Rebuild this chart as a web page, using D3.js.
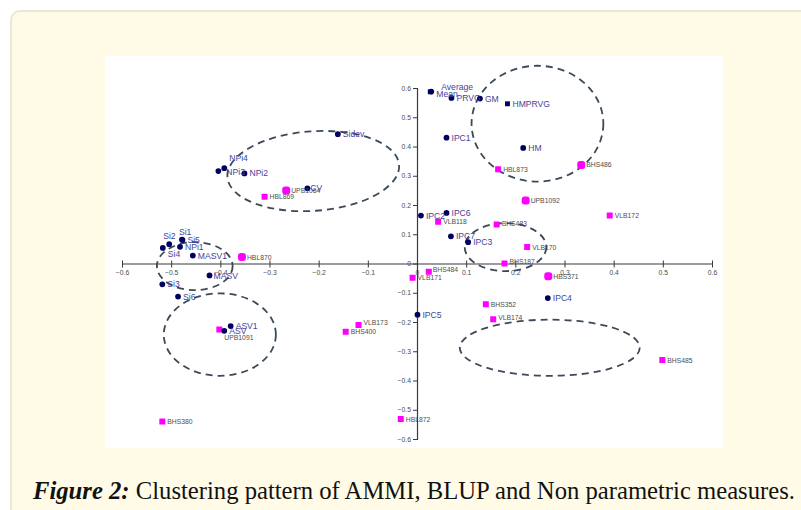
<!DOCTYPE html>
<html>
<head>
<meta charset="utf-8">
<script src="https://cdn.jsdelivr.net/npm/d3@7"></script>
<style>
  html, body { margin: 0; padding: 0; background: #ffffff; }
  svg { display: block; }
</style>
</head>
<body>
<svg id="chart" width="801" height="510"></svg>
<script>
// ---- Data ----
// Measures (AMMI, BLUP and non-parametric statistics) - navy markers
const measureNames = ["Average","Mean","PRVG","GM","HMPRVG","IPC1","HM","Sidev","NPi4","NPi3","NPi2","CV",
  "Si1","Si5","Si2","NPi1","Si4","MASV1","MASV","Si3","Si6","ASV1","ASV",
  "IPC2","IPC6","IPC7","IPC3","IPC4","IPC5"];
const measureX = [0.029, 0.027, 0.070, 0.128, 0.184, 0.060, 0.216, -0.161, -0.392, -0.404, -0.351, -0.223,
  -0.478, -0.477, -0.504, -0.482, -0.517, -0.456, -0.422, -0.518, -0.486, -0.379, -0.392,
  0.008, 0.060, 0.069, 0.104, 0.266, 0.001];
const measureY = [0.588, 0.587, 0.566, 0.564, 0.546, 0.430, 0.395, 0.442, 0.326, 0.316, 0.308, 0.257,
  0.082, 0.080, 0.066, 0.057, 0.053, 0.027, -0.041, -0.071, -0.113, -0.214, -0.230,
  0.164, 0.173, 0.093, 0.073, -0.118, -0.175];

// Genotypes - magenta markers
const genoNames = ["HBL869","UPB1064","HBL870","UPB1091","BHS380","VLB173","BHS400",
  "HBL873","BHS486","UPB1092","VLB172","VLB118","BHS483","VLB170","BHS187",
  "BHS484","VLB171","HBS371","BHS352","VLB174","BHS485","HBL872"];
const genoX = [-0.310, -0.266, -0.356, -0.402, -0.518, -0.119, -0.145,
  0.165, 0.334, 0.221, 0.392, 0.043, 0.162, 0.224, 0.178,
  0.024, -0.009, 0.267, 0.140, 0.155, 0.499, -0.033];
const genoY = [0.228, 0.250, 0.022, -0.226, -0.540, -0.210, -0.233,
  0.322, 0.337, 0.215, 0.164, 0.143, 0.133, 0.056, 0.000,
  -0.028, -0.049, -0.044, -0.139, -0.191, -0.330, -0.532];

// Cluster ellipses: centre x, centre y, radius x, radius y (data units), tilt (deg)
const clusterCX = [-0.211, 0.245, 0.180, 0.270, -0.452, -0.401];
const clusterCY = [0.316, 0.478, 0.056, -0.288, -0.009, -0.243];
const clusterRX = [0.175, 0.134, 0.083, 0.183, 0.077, 0.114];
const clusterRY = [0.136, 0.198, 0.082, 0.096, 0.082, 0.141];
const clusterTilt = [-4, 0, 0, 0, 0, 0];

// Axis ticks
const tickValues = [-0.6, -0.5, -0.4, -0.3, -0.2, -0.1, 0, 0.1, 0.2, 0.3, 0.4, 0.5, 0.6];

const captionBold = "Figure 2:";
const captionRest = " Clustering pattern of AMMI, BLUP and Non parametric measures.";

// ---- Label placement (style, not data) ----
const labelOffset = {
  "Average": [10, -5], "Mean": [6, 2], "NPi4": [5, -10], "NPi3": [8, 1],
  "Si1": [-3, -8], "Si2": [-6, -8], "Si4": [5, 6], "UPB1091": [5, 8],
  "BHS187": [5, -2], "BHS484": [4, -2], "VLB174": [5, -2], "VLB173": [5, -2],
  "CV": [3, 0], "MASV": [4, 1], "BHS483": [5, -1]
};
const roundGeno = new Set(["HBL870","UPB1064","UPB1092","HBS371","BHS486"]);
const squareMeasure = new Set(["HMPRVG","Mean"]);

// ---- Drawing ----
const svg = d3.select("#chart");
const W = 801, H = 510;

// cream page panel
svg.append("rect").attr("x", 11).attr("y", 11).attr("width", W + 20).attr("height", H + 20)
  .attr("rx", 9).attr("fill", "#fffbe7").attr("stroke", "#ece8d5").attr("stroke-width", 2);

// white chart area
svg.append("rect").attr("x", 105).attr("y", 56).attr("width", 618).attr("height", 392)
  .attr("fill", "#ffffff");

const x = d3.scaleLinear().domain([-0.6, 0.6]).range([122, 712]);
const y = d3.scaleLinear().domain([-0.6, 0.6]).range([439, 88]);
const fmt = d => (d === 0 ? "0" : d3.format(".1f")(d));

// x axis through origin
const gx = svg.append("g").attr("transform", `translate(0,${y(0)})`)
  .call(d3.axisBottom(x).tickValues(tickValues).tickFormat(fmt).tickSize(4).tickSizeOuter(0).tickPadding(3));
gx.selectAll(".tick line").attr("y1", -3).attr("y2", 4);

// y axis through origin
const gy = svg.append("g").attr("transform", `translate(${x(0)},0)`)
  .call(d3.axisLeft(y).tickValues(tickValues).tickFormat(fmt).tickSize(4).tickSizeOuter(4).tickPadding(2));

[gx, gy].forEach(g => {
  g.select(".domain").attr("stroke", "#3a3a3a").attr("stroke-width", 1.2);
  g.selectAll(".tick line").attr("stroke", "#3a3a3a");
  g.selectAll(".tick text").attr("fill", "#4a4a4a")
    .style("font-family", "'Liberation Sans', Arial, sans-serif").style("font-size", "6.8px");
});

// dashed cluster ellipses
const clusters = clusterCX.map((cx, i) => ({cx, cy: clusterCY[i], rx: clusterRX[i], ry: clusterRY[i], t: clusterTilt[i]}));
svg.append("g").selectAll("ellipse").data(clusters).join("ellipse")
  .attr("cx", d => x(d.cx)).attr("cy", d => y(d.cy))
  .attr("rx", d => x(d.rx) - x(0)).attr("ry", d => y(0) - y(d.ry))
  .attr("transform", d => `rotate(${d.t},${x(d.cx)},${y(d.cy)})`)
  .attr("fill", "none").attr("stroke", "#3c4959").attr("stroke-width", 1.8)
  .attr("stroke-dasharray", "7,5");

const genos = genoNames.map((n, i) => ({n, x: genoX[i], y: genoY[i]}));
const measures = measureNames.map((n, i) => ({n, x: measureX[i], y: measureY[i]}));

// genotype markers
const gGeno = svg.append("g");
gGeno.selectAll("rect").data(genos).join("rect")
  .attr("x", d => x(d.x) - (roundGeno.has(d.n) ? 4 : 3))
  .attr("y", d => y(d.y) - (roundGeno.has(d.n) ? 4 : 3))
  .attr("width", d => roundGeno.has(d.n) ? 8 : 6)
  .attr("height", d => roundGeno.has(d.n) ? 8 : 6)
  .attr("rx", d => roundGeno.has(d.n) ? 3 : 0.5)
  .attr("fill", "#ff00ff");

// measure markers
const gMeas = svg.append("g");
gMeas.selectAll("path").data(measures).join("path")
  .attr("transform", d => `translate(${x(d.x)},${y(d.y)})`)
  .attr("d", d => d3.symbol().type(squareMeasure.has(d.n) ? d3.symbolSquare : d3.symbolCircle)
    .size(squareMeasure.has(d.n) ? 24 : 26)())
  .attr("fill", "#000060");

// labels
const off = n => labelOffset[n] || [5, 0];
svg.append("g").selectAll("text").data(genos).join("text")
  .attr("x", d => x(d.x) + off(d.n)[0]).attr("y", d => y(d.y) + off(d.n)[1])
  .attr("dominant-baseline", "central")
  .style("font-family", "'Liberation Sans', Arial, sans-serif").style("font-size", "6.8px")
  .attr("fill", "#4d4d4d").text(d => d.n);

svg.append("g").selectAll("text").data(measures).join("text")
  .attr("x", d => x(d.x) + off(d.n)[0]).attr("y", d => y(d.y) + off(d.n)[1])
  .attr("dominant-baseline", "central")
  .style("font-family", "'Liberation Sans', Arial, sans-serif").style("font-size", "8.6px")
  .attr("fill", "#44449a").text(d => d.n);

// caption
const cap = svg.append("text").attr("x", 33).attr("y", 499)
  .style("font-family", "'Liberation Serif', 'DejaVu Serif', serif").style("font-size", "20px")
  .attr("fill", "#111");
cap.append("tspan").style("font-weight", "bold").style("font-style", "italic").text(captionBold);
cap.append("tspan").text(captionRest);
const len = cap.node().getComputedTextLength();
cap.style("font-size", (20 * 762 / len).toFixed(2) + "px");
</script>
</body>
</html>
